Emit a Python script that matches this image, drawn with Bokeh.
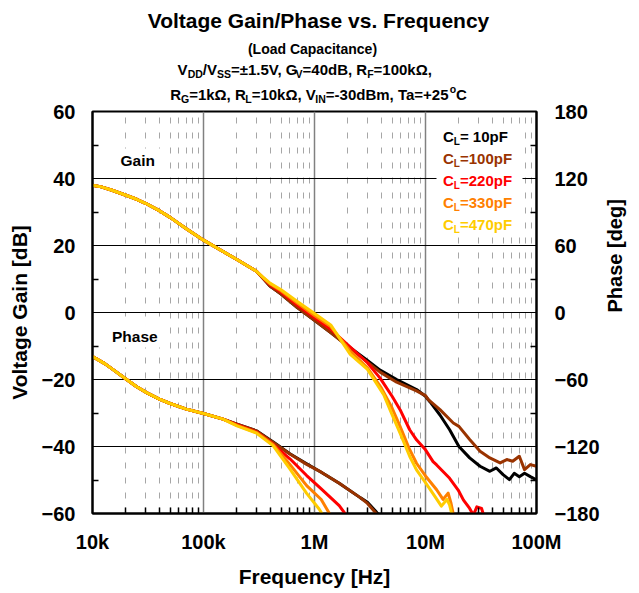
import math
from bokeh.plotting import figure
from bokeh.layouts import column
from bokeh.models import Range1d, LinearAxis, FixedTicker, Label, CustomJSTickFormatter, BoxAnnotation
from bokeh.core.properties import value
from bokeh.embed import file_html
from bokeh.resources import INLINE

# ---------------- data ----------------
series_names = ["10pF", "100pF", "220pF", "330pF", "470pF"]
series_colors = ["#000000", "#993300", "#FF0000", "#FF8000", "#FFCC00"]

# common low-frequency part of the gain curves
gain_f_low = [1e4, 1.2e4, 1.5e4, 2e4, 2.5e4, 3e4, 4e4, 5e4, 7e4, 1e5, 1.5e5, 2e5, 2.5e5, 3e5]
gain_low = [38.0, 37.5, 36.5, 35.0, 33.8, 32.6, 30.4, 28.4, 25.0, 21.6, 18.2, 15.8, 13.9, 12.3]

gain_f_10 = [3.5e5, 4e5, 5e5, 7e5, 1e6, 1.4e6, 2.1e6, 3e6, 3.9e6, 5.5e6, 8.3e6, 1e7, 1.1e7, 1.35e7,
             1.65e7, 2e7, 2.5e7, 3.1e7, 3.8e7, 4.35e7, 5e7, 5.7e7, 6.3e7, 7e7, 7.8e7, 8.8e7, 1e8]
gain_10 = [9.9, 7.8, 5.5, 1.5, -2.3, -6.0, -10.5, -14.3, -17.2, -20.0, -23.0, -25.0, -26.7, -30.6,
           -35.0, -40.0, -43.4, -45.9, -47.4, -46.4, -48.4, -49.9, -48.0, -49.0, -48.0, -49.0, -50.0]

gain_f_100 = [3.5e5, 4e5, 5e5, 7e5, 1e6, 1.4e6, 2.1e6, 3e6, 3.9e6, 5.5e6, 8.3e6, 1e7, 1.06e7, 1.35e7,
              1.78e7, 2e7, 2.5e7, 3.1e7, 3.8e7, 4.7e7, 5.4e7, 6.1e7, 7e7, 7.8e7, 8.8e7, 1e8]
gain_100 = [9.9, 7.8, 5.5, 1.5, -2.3, -6.0, -10.7, -14.8, -17.8, -20.8, -23.4, -24.8, -26.0, -29.0,
            -33.0, -34.0, -37.9, -41.4, -43.4, -44.9, -43.9, -44.4, -42.9, -46.9, -45.4, -45.9]

gain_f_220 = [3.5e5, 4e5, 5e5, 7e5, 1e6, 1.4e6, 2.1e6, 3e6, 3.9e6, 5e6, 5.9e6, 7.2e6, 8.3e6, 1e7,
              1.17e7, 1.26e7, 1.65e7, 1.97e7, 2.2e7, 2.5e7, 2.7e7, 2.9e7, 3.2e7, 3.45e7]
gain_220 = [10.1, 8.2, 6.1, 2.2, -1.5, -5.0, -10.3, -15.0, -19.6, -25.0, -29.0, -35.0, -38.0, -41.0,
            -44.5, -45.5, -49.5, -53.0, -56.0, -58.5, -60.5, -58.0, -58.5, -62.0]

gain_f_330 = [3.5e5, 4e5, 5e5, 7e5, 1e6, 1.4e6, 2.1e6, 3e6, 4e6, 5e6, 5.9e6, 7.1e6, 8.3e6, 1e7,
              1.26e7, 1.44e7, 1.6e7, 1.7e7, 1.8e7]
gain_330 = [10.2, 8.5, 6.5, 2.8, -0.9, -4.2, -11.5, -16.5, -22.5, -28.5, -34.0, -40.5, -45.0, -48.8,
            -52.9, -55.8, -53.9, -57.0, -61.0]

gain_f_470 = [3.5e5, 4e5, 5e5, 7e5, 1e6, 1.4e6, 2.1e6, 3e6, 4.2e6, 5e6, 5.9e6, 7.2e6, 8.3e6, 1e7,
              1.21e7, 1.39e7, 1.56e7, 1.65e7, 1.75e7]
gain_470 = [10.3, 8.7, 6.8, 3.3, -0.3, -3.7, -12.5, -17.0, -24.5, -30.5, -36.0, -42.9, -47.0, -50.8,
            -54.8, -57.8, -55.8, -57.5, -61.0]

# common low-frequency part of the phase curves [deg]
phase_f_low = [1e4, 1.3e4, 1.6e4, 2e4, 2.5e4, 3.1e4, 4e4, 5e4, 7e4, 1e5, 1.5e5]
phase_low = [-39.4, -46.0, -52.5, -59.5, -66.5, -72.0, -77.5, -81.5, -86.5, -90.5, -95.5]

phase_f_10 = [2e5, 3e5, 4.25e5, 6e5, 8.5e5, 1.15e6, 1.67e6, 2.6e6, 3e6, 3.6e6, 3.9e6]
phase_10 = [-100.0, -106.0, -116.0, -126.5, -135.5, -143.0, -153.0, -166.0, -170.0, -178.5, -183.0]

phase_f_100 = [2e5, 3e5, 4.25e5, 6e5, 8.5e5, 1.15e6, 1.67e6, 2.6e6, 3e6, 3.6e6, 3.8e6]
phase_100 = [-100.0, -106.0, -116.4, -126.8, -136.0, -143.0, -153.0, -166.0, -171.0, -180.0, -184.0]

phase_f_220 = [2e5, 3e5, 4.25e5, 6e5, 8.5e5, 1.15e6, 1.67e6, 1.95e6]
phase_220 = [-100.5, -107.0, -118.0, -131.0, -146.0, -158.0, -173.0, -182.0]

phase_f_330 = [2e5, 3e5, 4.25e5, 6e5, 8.5e5, 1.15e6, 1.4e6]
phase_330 = [-101.0, -107.5, -118.5, -136.0, -155.0, -167.5, -182.0]

phase_f_470 = [2e5, 3e5, 4.25e5, 6e5, 8.5e5, 1.1e6, 1.2e6]
phase_470 = [-101.5, -108.0, -119.4, -140.0, -162.0, -176.0, -182.0]

gain_f_high = [gain_f_10, gain_f_100, gain_f_220, gain_f_330, gain_f_470]
gain_high = [gain_10, gain_100, gain_220, gain_330, gain_470]
phase_f_high = [phase_f_10, phase_f_100, phase_f_220, phase_f_330, phase_f_470]
phase_high = [phase_10, phase_100, phase_220, phase_330, phase_470]

x_ticks = [1e4, 1e5, 1e6, 1e7, 1e8]
x_tick_labels = ["10k", "100k", "1M", "10M", "100M"]
gain_ticks = [-60, -40, -20, 0, 20, 40, 60]
phase_ticks = [-180, -120, -60, 0, 60, 120, 180]

title = "Voltage Gain/Phase vs. Frequency"
subtitle = "(Load Capacitance)"
cond1 = [("V", "n"), ("DD", "s"), ("/V", "n"), ("SS", "s"), ("=±1.5V, G", "n"), ("V", "s"),
         ("=40dB, R", "n"), ("F", "s"), ("=100kΩ,", "n")]
cond2 = [("R", "n"), ("G", "s"), ("=1kΩ, R", "n"), ("L", "s"), ("=10kΩ, V", "n"), ("IN", "s"),
         ("=-30dBm, Ta=+25", "n"), ("o", "p"), ("C", "n")]

# ---------------- layout helpers ----------------
FONT = "Liberation Sans"
W = 639
H = 593
HEAD = 104                            # height of the header (title) strip
OVERLAP = 7                           # chart canvas slides up under the header by this much
FL, FR, FT, FB = 92, 536, 111, 513   # frame edges in page pixels
BASE_K = 0.35                         # observed baseline offset of rendered text (x font size)

AB = {' ': 278, '(': 333, ')': 333, '+': 584, ',': 278, '-': 333, '.': 278, '/': 278,
      '=': 584, '±': 330, '°': 400, 'Ω': 768, 'B': 722, 'C': 722, 'D': 722, 'F': 611,
      'G': 778, 'I': 278, 'L': 611, 'N': 722, 'R': 722, 'S': 667, 'T': 611, 'V': 667,
      'a': 556, 'c': 556, 'd': 611, 'e': 556, 'i': 278, 'k': 556, 'm': 889, 'n': 611,
      'o': 611, 'p': 611, 't': 333, 'h': 611, 's': 556, 'g': 611, 'l': 278, 'v': 556,
      'r': 389, 'q': 611, 'u': 611, 'y': 556, 'P': 667}
for ch in "0123456789":
    AB[ch] = 556


def tw(s, size):
    return sum(AB.get(c, 600) for c in s) * size / 1000.0


def px2x(px):
    return 10 ** (4 + (px - FL) / (FR - FL) * 4)


def py2y(py):
    return 60 - (py - FT) / (FB - FT) * 120


# header strip: frame spans the same columns as the chart frame, data units = page pixels
head = figure(width=W, height=HEAD, x_range=Range1d(FL, FR), y_range=Range1d(HEAD, 0),
              output_backend="svg", toolbar_location=None,
              x_axis_location=None, y_axis_location=None,
              min_border_left=FL, min_border_right=W - FR, min_border_top=0, min_border_bottom=0,
              background_fill_color="white", border_fill_color="white",
              outline_line_color=None)
head.title.visible = False
head.xgrid.visible = False
head.ygrid.visible = False

top0 = HEAD - OVERLAP
p = figure(width=W, height=H - top0, x_axis_type="log",
           x_range=Range1d(1e4, 1e8), y_range=Range1d(-60, 60),
           output_backend="svg", toolbar_location=None,
           min_border_left=FL, min_border_right=W - FR,
           min_border_top=FT - top0, min_border_bottom=H - FB,
           background_fill_color="white", border_fill_color=None,
           outline_line_color="black", outline_line_width=2,
           margin=(-OVERLAP, 0, 0, 0))
p.title.visible = False
p.extra_y_ranges = {"phase": Range1d(-180, 180)}


def put_head(text, px, py, size, color="black", align="left"):
    head.text(x=[px], y=[py - BASE_K * size], text=[text], text_font=value(FONT),
              text_font_size=f"{size}px", text_font_style="bold",
              text_color=color, text_align=align, text_baseline="alphabetic")


def put_main(text, px, py, size, color="black", align="left"):
    p.add_layout(Label(x=px2x(px), y=py2y(py - BASE_K * size), text=text, text_font=FONT,
                       text_font_size=f"{size}px", text_font_style="bold",
                       text_color=color, text_align=align, text_baseline="alphabetic"))


def blank(x0, y0, x1, y1):
    # white patch behind in-plot texts (hides the grid there, as in the reference)
    p.add_layout(BoxAnnotation(left=px2x(x0), right=px2x(x1), top=py2y(y0), bottom=py2y(y1),
                               fill_color="white", fill_alpha=1.0, line_color=None))


def rich(put, segs, base_py, size, sub_size, color="black", cx=None, left=None,
         sub_dy=3.0, sup_dy=-7.5):
    widths = [tw(t, size if k == "n" else sub_size) for t, k in segs]
    x = left if left is not None else cx - sum(widths) / 2
    for (t, k), w in zip(segs, widths):
        if k == "n":
            put(t, x, base_py, size, color)
        elif k == "s":
            put(t, x, base_py + sub_dy, sub_size, color)
        else:
            put(t, x, base_py + sup_dy, sub_size, color)
        x += w


# ---------------- axes ----------------
x_minor = [m * 10 ** d for d in range(4, 8) for m in range(2, 10)]
xa = p.xaxis[0]
xa.ticker = FixedTicker(ticks=x_ticks, minor_ticks=x_minor)
xa.formatter = CustomJSTickFormatter(args=dict(xt=x_ticks, xl=x_tick_labels), code="""
    for (let i = 0; i < xt.length; i++) {
        if (Math.abs(Math.log10(tick / xt[i])) < 1e-6) return xl[i];
    }
    return "";
""")
xa.axis_label = "Frequency [Hz]"
xa.axis_label_standoff = 9

ya = p.yaxis[0]
ya.ticker = FixedTicker(ticks=gain_ticks, minor_ticks=[-50, -30, -10, 10, 30, 50])
ya.axis_label = "Voltage Gain [dB]"
ya.axis_label_standoff = 8

ra = LinearAxis(y_range_name="phase",
                ticker=FixedTicker(ticks=phase_ticks, minor_ticks=[-150, -90, -30, 30, 90, 150]),
                axis_label="Phase [deg]")
ra.axis_label_standoff = 12
try:
    ra.axis_label_orientation = math.pi / 2
except Exception:
    pass
p.add_layout(ra, "right")

for ax in (xa, ya, ra):
    ax.axis_line_color = "black"
    ax.axis_line_width = 2
    ax.major_tick_in = 0
    ax.major_tick_out = 0
    ax.minor_tick_in = 6
    ax.minor_tick_out = 0
    ax.minor_tick_line_color = "black"
    ax.minor_tick_line_width = 1.5
    ax.major_label_text_font = FONT
    ax.major_label_text_font_style = "bold"
    ax.major_label_text_font_size = "20px"
    ax.major_label_text_color = "black"
    ax.axis_label_text_font = FONT
    ax.axis_label_text_font_style = "bold"
    ax.axis_label_text_font_size = "21px"
    ax.axis_label_text_color = "black"
xa.major_label_standoff = 17
ya.major_label_standoff = 17
ra.major_label_standoff = 18
ra.axis_label_text_font_size = "20px"

p.xgrid.grid_line_color = "#808080"
p.xgrid.grid_line_width = 1.5
p.xgrid.minor_grid_line_color = "#A6A6A6"
p.xgrid.minor_grid_line_width = 1
p.xgrid.minor_grid_line_dash = "6 9"
p.ygrid.grid_line_color = "black"
p.ygrid.grid_line_width = 1

# ---------------- curves ----------------
for fh, gh, color in zip(gain_f_high, gain_high, series_colors):
    p.line(gain_f_low + fh, gain_low + gh, line_color=color, line_width=3,
           line_join="round", line_cap="round")
for fh, ph, color in zip(phase_f_high, phase_high, series_colors):
    p.line(phase_f_low + fh, phase_low + ph, line_color=color, line_width=3,
           line_join="round", line_cap="round", y_range_name="phase")

# ---------------- texts ----------------
put_head(title, 318, 27, 21, align="center")
put_head(subtitle, 312, 53.5, 14, align="center")
rich(put_head, cond1, 74, 15, 10.5, cx=304)
rich(put_head, cond2, 99.5, 15, 10.5, cx=318)

blank(111, 148, 161, 177)
blank(105, 316, 165, 347)
blank(436, 124, 522, 235)

put_main("Gain", 120, 165, 15.5)
put_main("Phase", 111.5, 341, 15.5)

for i, (name, color) in enumerate(zip(series_names, series_colors)):
    lbl = ("= " + name) if name == "10pF" else ("=" + name)
    rich(put_main, [("C", "n"), ("L", "s"), (lbl, "n")], 141.5 + 22 * i, 15, 10, color=color,
         left=442.5, sub_dy=3)

layout = column(head, p, spacing=0)
open("out.html", "w").write(file_html(layout, INLINE))
